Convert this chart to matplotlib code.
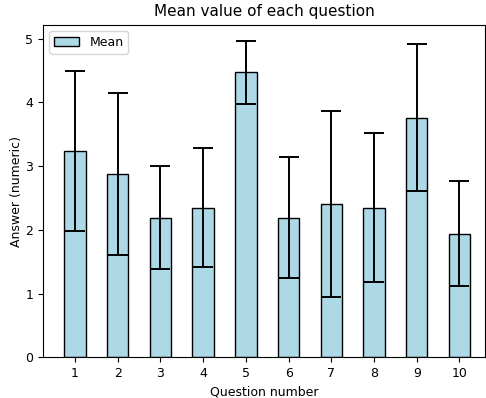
import matplotlib
matplotlib.use('Agg')
import matplotlib.pyplot as plt
import numpy as np

questions = [1, 2, 3, 4, 5, 6, 7, 8, 9, 10]
means = [3.24, 2.88, 2.19, 2.35, 4.47, 2.19, 2.41, 2.35, 3.76, 1.94]
stds = [1.25, 1.27, 0.81, 0.93, 0.50, 0.95, 1.46, 1.17, 1.15, 0.82]

fig, ax = plt.subplots(figsize=(4.86, 3.98), dpi=100)
x = np.arange(len(questions))
ax.bar(x, means, width=0.5, color='lightblue', edgecolor='black',
       yerr=stds, capsize=7, error_kw={'elinewidth': 1.4, 'capthick': 1.4},
       label='Mean')
ax.set_xticks(x)
ax.set_xticklabels([str(q) for q in questions])
ax.set_xlim(-0.75, len(questions) - 0.4)
ax.set_xlabel('Question number', fontsize=9)
ax.set_ylabel('Answer (numeric)', fontsize=9, labelpad=2)
ax.set_title('Mean value of each question', fontsize=11)
ax.tick_params(labelsize=9)
ax.legend(loc='upper left', fontsize=9)
fig.subplots_adjust(left=0.0885, right=0.998, top=0.938, bottom=0.102)
fig.savefig('out.png', dpi=100)
